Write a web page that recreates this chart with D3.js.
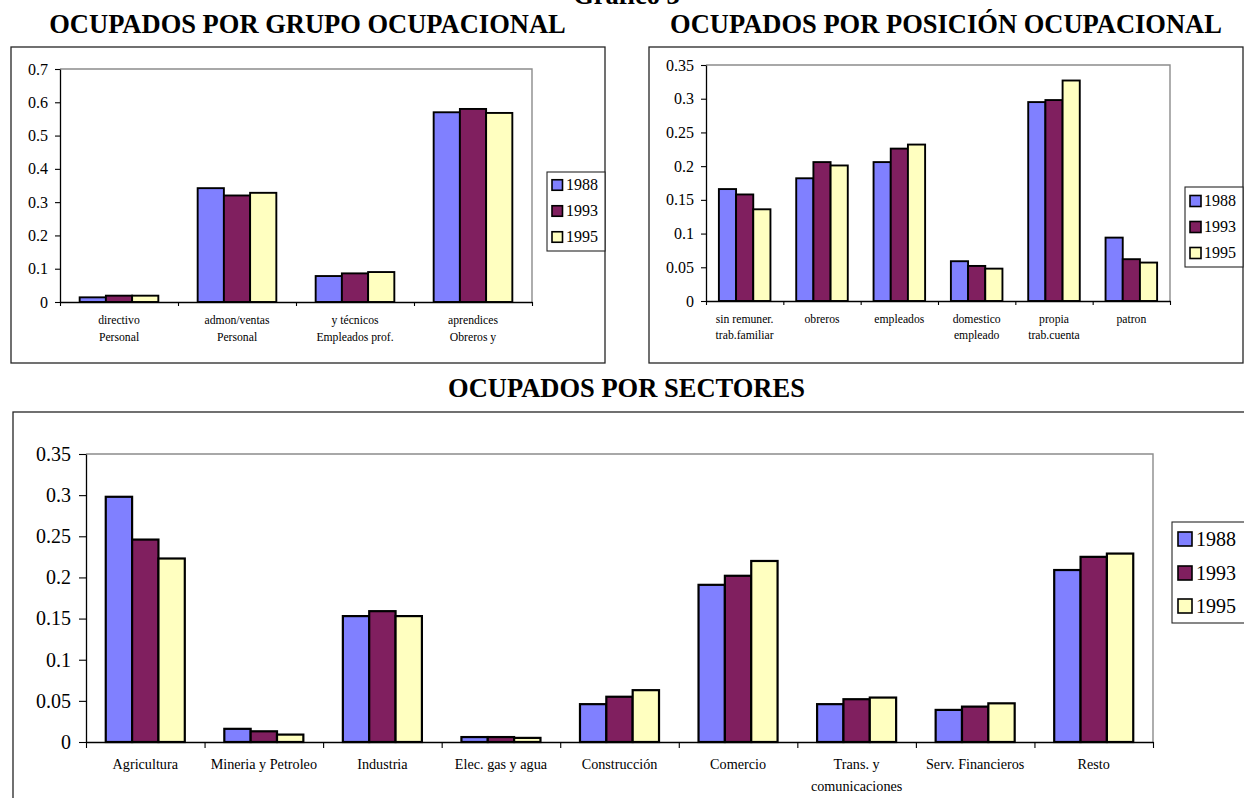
<!DOCTYPE html>
<html>
<head>
<meta charset="utf-8">
<script src="https://cdn.jsdelivr.net/npm/d3@7"></script>
<style>
  html, body { margin: 0; padding: 0; background: #fff; overflow: hidden; }
  svg, svg text { font-family: "Liberation Serif", "Times New Roman", Times, serif; }
  svg { display: block; }
</style>
</head>
<body>
<svg id="chart" width="1244" height="798"></svg>
<script>
// ---- data -------------------------------------------------------------
const years = ["1988", "1993", "1995"];
const seriesColors = ["#8080ff", "#801f5f", "#ffffc0"];

// Ocupados por grupo ocupacional
const grupoCategories = [
  ["directivo", "Personal"],
  ["admon/ventas", "Personal"],
  ["y técnicos", "Empleados prof."],
  ["aprendices", "Obreros y"]
];
const grupo1988 = [0.014, 0.342, 0.078, 0.570];
const grupo1993 = [0.019, 0.320, 0.086, 0.580];
const grupo1995 = [0.019, 0.328, 0.090, 0.568];
const grupoTicks = ["0", "0.1", "0.2", "0.3", "0.4", "0.5", "0.6", "0.7"];

// Ocupados por posición ocupacional
const posicionCategories = [
  ["sin remuner.", "trab.familiar"],
  ["obreros"],
  ["empleados"],
  ["domestico", "empleado"],
  ["propia", "trab.cuenta"],
  ["patron"]
];
const posicion1988 = [0.166, 0.182, 0.206, 0.059, 0.295, 0.094];
const posicion1993 = [0.158, 0.206, 0.226, 0.052, 0.298, 0.062];
const posicion1995 = [0.136, 0.201, 0.232, 0.048, 0.327, 0.057];
const posicionTicks = ["0", "0.05", "0.1", "0.15", "0.2", "0.25", "0.3", "0.35"];

// Ocupados por sectores
const sectoresCategories = [
  ["Agricultura"],
  ["Mineria y Petroleo"],
  ["Industria"],
  ["Elec. gas y agua"],
  ["Construcción"],
  ["Comercio"],
  ["Trans. y", "comunicaciones"],
  ["Serv. Financieros"],
  ["Resto"]
];
const sectores1988 = [0.298, 0.016, 0.153, 0.006, 0.046, 0.191, 0.046, 0.039, 0.209];
const sectores1993 = [0.246, 0.013, 0.159, 0.006, 0.055, 0.202, 0.052, 0.043, 0.225];
const sectores1995 = [0.223, 0.009, 0.153, 0.005, 0.063, 0.220, 0.054, 0.047, 0.229];
const sectoresTicks = ["0", "0.05", "0.1", "0.15", "0.2", "0.25", "0.3", "0.35"];

const pageTitle = "Gráfico 3";

// ---- layout -----------------------------------------------------------
const panels = [
  {
    title: "OCUPADOS POR GRUPO OCUPACIONAL", titleX: 307.5, titleY: 33,
    categories: grupoCategories, series: [grupo1988, grupo1993, grupo1995], ticks: grupoTicks,
    frame: { x: 11, y: 47, w: 594, h: 316 },
    plot: { left: 60, right: 532, top: 69, bottom: 302 },
    yFont: 16, yTick: 5, yPad: 7, catFont: 11.7, catTick: 4, catLines: [22, 39],
    barStroke: 1.9,
    legend: { x: 547, y: 172, w: 58, h: 79, sq: 10.5, sqX: 552, textX: 566, rows: [185, 211, 237], font: 16 }
  },
  {
    title: "OCUPADOS POR POSICIÓN OCUPACIONAL", titleX: 946, titleY: 33,
    categories: posicionCategories, series: [posicion1988, posicion1993, posicion1995], ticks: posicionTicks,
    frame: { x: 649, y: 47, w: 594, h: 316 },
    plot: { left: 706, right: 1170, top: 65, bottom: 301 },
    yFont: 16, yTick: 5, yPad: 7, catFont: 11.7, catTick: 4, catLines: [22, 38],
    barStroke: 1.9,
    legend: { x: 1185, y: 187, w: 58, h: 80, sq: 11, sqX: 1190, textX: 1204, rows: [201, 227, 253], font: 16 }
  },
  {
    title: "OCUPADOS POR SECTORES", titleX: 626.5, titleY: 397,
    categories: sectoresCategories, series: [sectores1988, sectores1993, sectores1995], ticks: sectoresTicks,
    frame: { x: 13, y: 412, w: 1240, h: 420 },
    plot: { left: 86, right: 1153, top: 454, bottom: 742 },
    yFont: 20, yTick: 7, yPad: 8, catFont: 14.2, catTick: 6, catLines: [27, 49],
    barStroke: 2.2,
    legend: { x: 1172, y: 522, w: 90, h: 101, sq: 14, sqX: 1178, textX: 1196, rows: [539, 573, 606], font: 20 }
  }
];

// ---- drawing ----------------------------------------------------------
const serif = '"Liberation Serif", "Times New Roman", Times, serif';
const svg = d3.select("#chart");

svg.append("text")
  .attr("x", 626.5).attr("y", 4)
  .attr("text-anchor", "middle")
  .style("font-family", serif)
  .attr("font-size", 26.5).attr("font-weight", "bold")
  .text(pageTitle);

function drawPanel(p) {
  const g = svg.append("g");
  const n = p.categories.length;

  // chart frame
  g.append("rect")
    .attr("x", p.frame.x).attr("y", p.frame.y)
    .attr("width", p.frame.w).attr("height", p.frame.h)
    .attr("fill", "#fff").attr("stroke", "#262626").attr("stroke-width", 1.3);

  // title
  g.append("text")
    .attr("x", p.titleX).attr("y", p.titleY)
    .attr("text-anchor", "middle")
    .style("font-family", serif)
    .attr("font-size", 26.5).attr("font-weight", "bold")
    .text(p.title);

  const yMax = +p.ticks[p.ticks.length - 1];
  const y = d3.scaleLinear().domain([0, yMax]).range([p.plot.bottom, p.plot.top]);
  const x = d3.scaleBand().domain(d3.range(n))
    .range([p.plot.left, p.plot.right])
    .paddingInner(1 / 3).paddingOuter(1 / 6);
  const xs = d3.scaleBand().domain(years).range([0, x.bandwidth()]);

  // plot area border (top and right edges)
  g.append("path")
    .attr("d", `M${p.plot.left},${p.plot.top}H${p.plot.right}V${p.plot.bottom}`)
    .attr("fill", "none").attr("stroke", "#8c8c8c").attr("stroke-width", 1.4);

  // bars
  const rows = p.categories.map((c, i) => years.map((yr, j) => ({ i, yr, j, v: p.series[j][i] })));
  g.append("g").selectAll("g").data(rows).join("g")
    .selectAll("rect").data(d => d).join("rect")
    .attr("x", d => x(d.i) + xs(d.yr))
    .attr("y", d => y(d.v))
    .attr("width", xs.bandwidth())
    .attr("height", d => y(0) - y(d.v))
    .attr("fill", d => seriesColors[d.j])
    .attr("stroke", "#000").attr("stroke-width", p.barStroke);

  // value axis
  const yAxis = g.append("g")
    .attr("transform", `translate(${p.plot.left},0)`)
    .call(d3.axisLeft(y)
      .tickValues(p.ticks.map(Number))
      .tickFormat((d, i) => p.ticks[i])
      .tickSize(p.yTick).tickSizeOuter(0).tickPadding(p.yPad));
  yAxis.attr("font-family", null).attr("font-size", null);
  yAxis.select(".domain").attr("stroke", "#000").attr("stroke-width", 1.3);
  yAxis.selectAll(".tick line").attr("stroke", "#000").attr("stroke-width", 1.1);
  yAxis.selectAll(".tick text")
    .style("font-family", serif)
    .attr("font-size", p.yFont).attr("fill", "#000");

  // category axis with ticks at category boundaries
  const xb = d3.scaleLinear().domain([0, n]).range([p.plot.left, p.plot.right]);
  const xAxis = g.append("g")
    .attr("transform", `translate(0,${p.plot.bottom})`)
    .call(d3.axisBottom(xb)
      .tickValues(d3.range(n + 1))
      .tickFormat("")
      .tickSize(p.catTick).tickSizeOuter(0));
  xAxis.attr("font-family", null);
  xAxis.select(".domain").attr("stroke", "#000").attr("stroke-width", 1.4);
  xAxis.selectAll(".tick line").attr("stroke", "#000").attr("stroke-width", 1.1);

  // category labels
  const labels = g.append("g").selectAll("text").data(p.categories).join("text")
    .attr("text-anchor", "middle")
    .style("font-family", serif)
    .attr("font-size", p.catFont).attr("fill", "#000");
  labels.selectAll("tspan").data((d, i) => d.map((line, k) => ({ line, k, i }))).join("tspan")
    .attr("x", d => x(d.i) + x.bandwidth() / 2)
    .attr("y", d => p.plot.bottom + p.catLines[d.k])
    .text(d => d.line);

  // legend
  const L = p.legend;
  g.append("rect")
    .attr("x", L.x).attr("y", L.y).attr("width", L.w).attr("height", L.h)
    .attr("fill", "#fff").attr("stroke", "#262626").attr("stroke-width", 1.1);
  const items = g.append("g").selectAll("g").data(years).join("g")
    .attr("transform", (d, j) => `translate(0,${L.rows[j]})`);
  items.append("rect")
    .attr("x", L.sqX).attr("y", -L.sq / 2)
    .attr("width", L.sq).attr("height", L.sq)
    .attr("fill", (d, j) => seriesColors[j])
    .attr("stroke", "#000").attr("stroke-width", 1.6);
  items.append("text")
    .attr("x", L.textX).attr("y", L.font * 0.34)
    .style("font-family", serif)
    .attr("font-size", L.font).attr("fill", "#000")
    .text(d => d);
}

panels.forEach(drawPanel);
</script>
</body>
</html>
